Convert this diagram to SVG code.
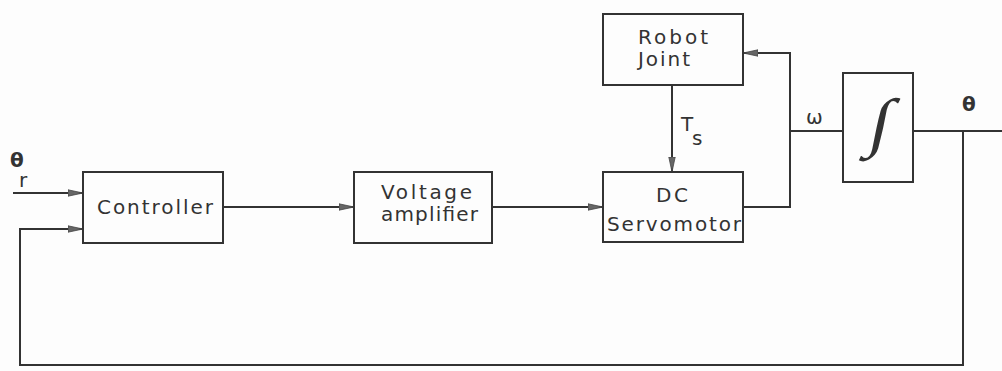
<svg xmlns="http://www.w3.org/2000/svg" width="1002" height="371" viewBox="0 0 1002 371">
<defs>
<style>
.box{fill:none;stroke:#333;stroke-width:2}
.ln{fill:none;stroke:#333;stroke-width:2}
.t{font-family:"DejaVu Sans",sans-serif;font-size:20px;fill:#333}
</style>
<marker id="ah" markerWidth="16" markerHeight="8" refX="15" refY="4" orient="auto" markerUnits="userSpaceOnUse">
<path d="M0,0.8 L15,4 L0,7.2 Z" fill="#666" stroke="#444" stroke-width="0.8"/>
</marker>
</defs>
<rect width="1002" height="371" fill="#fdfdfd"/>
<g id="connectors">
<line class="ln" x1="13" y1="193" x2="83" y2="193" marker-end="url(#ah)"/>
<polyline class="ln" points="963,131 963,365 20,365 20,229 83,229" marker-end="url(#ah)"/>
<line class="ln" x1="223" y1="207" x2="354" y2="207" marker-end="url(#ah)"/>
<line class="ln" x1="492" y1="207" x2="603" y2="207" marker-end="url(#ah)"/>
<line class="ln" x1="672" y1="85" x2="672" y2="172" marker-end="url(#ah)"/>
<polyline class="ln" points="743,207 790,207 790,53 743,53" marker-end="url(#ah)"/>
<line class="ln" x1="790" y1="131" x2="843" y2="131"/>
<line class="ln" x1="913" y1="131" x2="1002" y2="131"/>
</g>
<g id="theta_r">
<text class="t" x="10" y="167" font-weight="bold" font-size="16">θ</text>
<text class="t" x="19" y="187" font-size="17">r</text>
</g>
<g id="controller">
<rect class="box" x="83" y="172" width="140" height="71"/>
<text class="t" x="97" y="214" textLength="116" lengthAdjust="spacing">Controller</text>
</g>
<g id="voltage_amplifier">
<rect class="box" x="354" y="172" width="138" height="71"/>
<text class="t" x="381" y="199" textLength="91" lengthAdjust="spacing">Voltage</text>
<text class="t" x="381" y="221" textLength="97" lengthAdjust="spacing">amplifier</text>
</g>
<g id="robot_joint">
<rect class="box" x="603" y="14" width="140" height="71"/>
<text class="t" x="638" y="44" textLength="70" lengthAdjust="spacing">Robot</text>
<text class="t" x="638" y="66" textLength="52" lengthAdjust="spacing">Joint</text>
</g>
<g id="ts_label">
<text class="t" x="681" y="131">T</text>
<text class="t" x="692" y="145" font-size="17">s</text>
</g>
<g id="dc_servomotor">
<rect class="box" x="603" y="172" width="140" height="70"/>
<text class="t" x="656" y="202" textLength="32" lengthAdjust="spacing">DC</text>
<text class="t" x="607" y="231" textLength="134" lengthAdjust="spacing">Servomotor</text>
</g>
<g id="omega_label">
<text class="t" x="806" y="124" font-size="16">ω</text>
</g>
<g id="integrator">
<rect class="box" x="843" y="73" width="70" height="109"/>
<text x="880" y="146" font-family="Liberation Serif, serif" font-size="72" fill="#333" text-anchor="middle" transform="translate(880 128) skewX(-12) scale(1.05 0.9) translate(-880 -128)">∫</text>
</g>
<g id="theta_label">
<text class="t" x="962" y="111" font-weight="bold" font-size="18">θ</text>
</g>
</svg>
